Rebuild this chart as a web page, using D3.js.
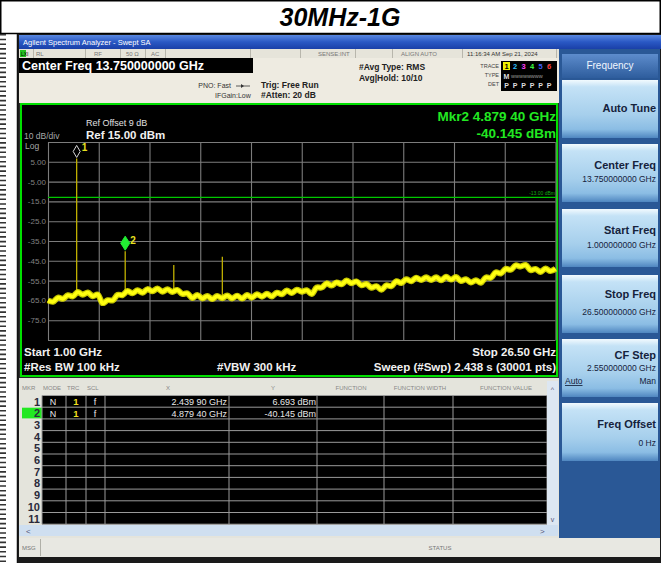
<!DOCTYPE html>
<html><head><meta charset="utf-8">
<script src="https://cdn.jsdelivr.net/npm/d3@7"></script>
<style>body{margin:0;background:#fff}svg{display:block;font-family:"Liberation Sans",Arial,sans-serif}</style>
</head><body><svg id="c" width="661" height="563"></svg>
<script>
// ---------- data ----------
const chartTitle = "30MHz-1G";
const startGHz = 1.0, stopGHz = 26.5;
const refLevel = 15, bottomLevel = -85;
const traceFreqGHz = [1.00,1.25,1.50,1.75,2.00,2.25,2.50,2.75,3.00,3.25,3.50,3.75,4.00,4.25,4.50,4.75,5.00,5.25,5.50,5.75,6.00,6.25,6.50,6.75,7.00,7.25,7.50,7.75,8.00,8.25,8.50,8.75,9.00,9.25,9.50,9.75,10.00,10.25,10.50,10.75,11.00,11.25,11.50,11.75,12.00,12.25,12.50,12.75,13.00,13.25,13.50,13.75,14.00,14.25,14.50,14.75,15.00,15.25,15.50,15.75,16.00,16.25,16.50,16.75,17.00,17.25,17.50,17.75,18.00,18.25,18.50,18.75,19.00,19.25,19.50,19.75,20.00,20.25,20.50,20.75,21.00,21.25,21.50,21.75,22.00,22.25,22.50,22.75,23.00,23.25,23.50,23.75,24.00,24.25,24.50,24.75,25.00,25.25,25.50,25.75,26.00,26.25,26.50];
const traceLevelDbm = [-65.0,-65.7,-63.6,-64.2,-62.4,-63.0,-60.8,-62.1,-61.0,-62.9,-62.0,-66.5,-64.9,-65.0,-62.2,-62.3,-60.3,-61.4,-59.9,-61.1,-59.3,-60.4,-59.0,-60.6,-59.4,-60.7,-59.7,-61.7,-61.4,-63.8,-62.3,-64.0,-62.8,-64.3,-62.8,-63.9,-62.5,-64.0,-62.6,-64.1,-62.3,-63.6,-61.9,-63.1,-61.7,-63.0,-61.1,-61.9,-60.0,-61.3,-59.6,-60.6,-59.9,-61.8,-58.5,-58.5,-56.4,-57.5,-55.9,-56.9,-55.0,-56.3,-55.4,-57.4,-56.7,-58.6,-57.8,-59.6,-57.4,-57.8,-55.3,-56.2,-54.3,-55.3,-53.5,-54.7,-53.3,-54.7,-53.3,-54.8,-53.1,-54.5,-53.2,-55.2,-54.3,-56.0,-54.8,-56.1,-53.4,-53.6,-50.8,-51.4,-49.1,-49.5,-47.3,-47.9,-47.1,-49.7,-49.1,-50.6,-48.9,-50.2,-49.0];
const spurFreqGHz = [2.4399, 4.8794, 7.32, 9.76];
const spurPeakDbm = [6.693, -40.145, -47.1, -42.9];
const spurFloorDbm = [-61.0, -61.5, -60.0, -63.3];
const markerNames = ["1", "2"];
const markerFreqGHz = [2.4399, 4.8794];
const markerLevelDbm = [6.693, -40.145];
const displayLineDbm = -13.0;
const yGridValues = [15,5,-5,-15,-25,-35,-45,-55,-65,-75,-85];
const yTickValues = [5,-5,-15,-25,-35,-45,-55,-65,-75];
const yTickLabels = ["5.00","-5.00","-15.0","-25.0","-35.0","-45.0","-55.0","-65.0","-75.0"];
const xGridValues = [1,3.55,6.1,8.65,11.2,13.75,16.3,18.85,21.4,23.95,26.5];
const tableRowNums = ["1","2","3","4","5","6","7","8","9","10","11"];
const tableMode = ["N","N"], tableTrc = ["1","1"], tableScl = ["f","f"];
const tableX = ["2.439 90 GHz","4.879 40 GHz"];
const tableY = ["6.693 dBm","-40.145 dBm"];
const softkeyLabels = ["Auto Tune","Center Freq","Start Freq","Stop Freq","CF Step","Freq Offset"];
const softkeyValues = ["","13.750000000 GHz","1.000000000 GHz","26.500000000 GHz","2.550000000 GHz","0 Hz"];

// ---------- drawing ----------
const svg = d3.select('#c');
const defs = svg.append('defs');
function vgrad(id, stops){
  const g = defs.append('linearGradient').attr('id',id).attr('x1',0).attr('y1',0).attr('x2',0).attr('y2',1);
  stops.forEach(s=>g.append('stop').attr('offset',s[0]).attr('stop-color',s[1]));
}
vgrad('gTitle',[[0,'#5a88e0'],[0.5,'#2a58c4'],[1,'#1a40a8']]);
vgrad('gBtn',[[0,'#f2fafe'],[0.12,'#c4e2f6'],[0.6,'#a6cfec'],[0.85,'#8bbde4'],[1,'#4f86c0']]);
vgrad('gHead',[[0,'#5d8ccc'],[1,'#2e5d9d']]);
defs.append('filter').attr('id','soft').attr('x','-5%').attr('y','-5%').attr('width','110%').attr('height','110%')
  .append('feGaussianBlur').attr('stdDeviation',0.7);

svg.append('rect').attr('width',661).attr('height',563).attr('fill','#fff');

// outer frame
svg.append('line').attr('x1',0).attr('x2',661).attr('y1',0.75).attr('y2',0.75).attr('stroke','#000').attr('stroke-width',1.5);
svg.append('line').attr('x1',0).attr('x2',661).attr('y1',33.5).attr('y2',33.5).attr('stroke','#000').attr('stroke-width',1.5);
svg.append('line').attr('x1',0.75).attr('x2',0.75).attr('y1',0).attr('y2',34).attr('stroke','#000').attr('stroke-width',1.5);
svg.append('line').attr('x1',660.25).attr('x2',660.25).attr('y1',0).attr('y2',563).attr('stroke','#000').attr('stroke-width',1.5);
svg.append('line').attr('x1',3).attr('x2',3).attr('y1',34).attr('y2',563).attr('stroke','#333').attr('stroke-width',6).attr('stroke-dasharray','1.6 3.1');
svg.append('line').attr('x1',17.5).attr('x2',17.5).attr('y1',34).attr('y2',563).attr('stroke','#111').attr('stroke-width',1.5);

svg.append('text').attr('x',340).attr('y',26).attr('text-anchor','middle')
  .attr('font-size',25).attr('font-weight','bold').attr('font-style','italic').attr('fill','#000').text(chartTitle);

// ---------- analyzer screen ----------
const scr = svg.append('g');
scr.append('rect').attr('x',18).attr('y',34).attr('width',643).attr('height',529).attr('fill','#1a1a1a');
scr.append('rect').attr('x',19).attr('y',35).attr('width',642).attr('height',14).attr('fill','url(#gTitle)');
scr.append('text').attr('x',23).attr('y',45).attr('font-size',7.5).attr('fill','#fff').text('Agilent Spectrum Analyzer - Swept SA');

// status row
scr.append('rect').attr('x',19).attr('y',49).attr('width',540).attr('height',9).attr('fill','#e6e4da');
scr.append('rect').attr('x',20).attr('y',50).attr('width',6).attr('height',7).attr('fill','#22c022');
scr.append('text').attr('x',21).attr('y',56).attr('font-size',5).attr('fill','#000').text('LXI');
const statusTexts = ['RL','RF','50 Ω','AC','SENSE:INT','ALIGN AUTO','11:16:34 AM Sep 21, 2024'];
const statusX = [36,94,126,151,318,401,467];
statusTexts.forEach((t,i)=>scr.append('text').attr('x',statusX[i]).attr('y',56).attr('font-size',6).attr('fill', i===6?'#333':'#777').text(t));
[33,85,120,145,165,250,300,355,392,462,556].forEach(xx=>scr.append('line').attr('x1',xx+0.5).attr('x2',xx+0.5).attr('y1',49).attr('y2',58).attr('stroke','#b8b6ac').attr('stroke-width',1));

// settings block
scr.append('rect').attr('x',19).attr('y',58).attr('width',540).attr('height',45).attr('fill','#eeebe1');
scr.append('rect').attr('x',19).attr('y',58).attr('width',234).attr('height',15).attr('fill','#000');
scr.append('text').attr('x',22).attr('y',70).attr('font-size',12.5).attr('font-weight','bold').attr('fill','#fff').text('Center Freq 13.750000000 GHz');
scr.append('text').attr('x',231).attr('y',88).attr('text-anchor','end').attr('font-size',7).attr('fill','#333').text('PNO: Fast');
scr.append('line').attr('x1',236).attr('x2',250).attr('y1',86).attr('y2',86).attr('stroke','#333').attr('stroke-width',0.8);
scr.append('path').attr('d','M241,84 L244,86 L241,88 Z').attr('fill','#333');
scr.append('text').attr('x',215).attr('y',98).attr('font-size',7).attr('fill','#333').text('IFGain:Low');
scr.append('text').attr('x',261).attr('y',88).attr('font-size',8.5).attr('font-weight','bold').attr('fill','#222').text('Trig: Free Run');
scr.append('text').attr('x',261).attr('y',98).attr('font-size',8.5).attr('font-weight','bold').attr('fill','#222').text('#Atten: 20 dB');
scr.append('text').attr('x',359).attr('y',70).attr('font-size',8.5).attr('font-weight','bold').attr('fill','#222').text('#Avg Type: RMS');
scr.append('text').attr('x',359).attr('y',81).attr('font-size',8.5).attr('font-weight','bold').attr('fill','#222').text('Avg|Hold: 10/10');
['TRACE','TYPE','DET'].forEach((t,i)=>scr.append('text').attr('x',499).attr('y',68+i*9).attr('text-anchor','end').attr('font-size',5.5).attr('fill','#444').text(t));
scr.append('rect').attr('x',501).attr('y',61).attr('width',56).attr('height',30).attr('fill','#000');
const trColors = ['#000','#30c0ff','#ff40ff','#40ff40','#4060ff','#ff4040'];
scr.append('rect').attr('x',503).attr('y',62).attr('width',7).attr('height',8).attr('fill','#f0f000');
for(let i=0;i<6;i++){
  scr.append('text').attr('x',506.5+i*8.5).attr('y',69).attr('text-anchor','middle').attr('font-size',7.5).attr('font-weight','bold').attr('fill',trColors[i]).text(String(i+1));
  scr.append('text').attr('x',506.5+i*8.5).attr('y',88).attr('text-anchor','middle').attr('font-size',7).attr('font-weight','bold').attr('fill','#ddd').text('P');
}
scr.append('text').attr('x',506.5).attr('y',78.5).attr('text-anchor','middle').attr('font-size',7).attr('font-weight','bold').attr('fill','#ddd').text('M');
scr.append('text').attr('x',511).attr('y',78).attr('font-size',5.5).attr('fill','#999').text('wwwwwwww');

// ---------- plot panel ----------
scr.append('rect').attr('x',19).attr('y',103).attr('width',540).attr('height',275).attr('fill','#2a2a2a');
scr.append('rect').attr('x',21).attr('y',104).attr('width',536).attr('height',272).attr('fill','#000').attr('stroke','#00e000').attr('stroke-width',2);

const x = d3.scaleLinear().domain([startGHz, stopGHz]).range([48, 555.5]);
const y = d3.scaleLinear().domain([bottomLevel, refLevel]).range([340, 142]);
const plot = scr.append('g');

const gy = plot.append('g').attr('transform','translate(48,0)')
  .call(d3.axisLeft(y).tickValues(yGridValues).tickSize(-(555.5-48)).tickFormat(''));
const gx = plot.append('g').attr('transform','translate(0,340)')
  .call(d3.axisBottom(x).tickValues(xGridValues).tickSize(-(340-142)).tickFormat(''));
[gy,gx].forEach(g=>{g.select('.domain').remove(); g.selectAll('line').attr('stroke','#7c7c7c').attr('stroke-width',1.1);});

const yl = plot.append('g').attr('transform','translate(46,0)')
  .call(d3.axisLeft(y).tickValues(yTickValues).tickSize(0).tickPadding(0).tickFormat((d,i)=>yTickLabels[i]));
yl.select('.domain').remove();
yl.selectAll('text').attr('font-size',8).attr('fill','#808080').attr('font-family','"Liberation Sans",Arial,sans-serif');

plot.append('text').attr('x',24).attr('y',139).attr('font-size',8.5).attr('fill','#a8a8a8').text('10 dB/div');
plot.append('text').attr('x',25).attr('y',149).attr('font-size',8.5).attr('fill','#a8a8a8').text('Log');
plot.append('text').attr('x',86).attr('y',126).attr('font-size',9).attr('fill','#e0e0e0').text('Ref Offset 9 dB');
plot.append('text').attr('x',86).attr('y',139).attr('font-size',11.5).attr('font-weight','bold').attr('fill','#f0f0f0').text('Ref 15.00 dBm');
plot.append('text').attr('x',556).attr('y',121).attr('text-anchor','end').attr('font-size',13.5).attr('font-weight','bold').attr('fill','#22e822').text('Mkr2 4.879 40 GHz');
plot.append('text').attr('x',556).attr('y',138).attr('text-anchor','end').attr('font-size',13.5).attr('font-weight','bold').attr('fill','#22e822').text('-40.145 dBm');

// display line
plot.append('line').attr('x1',48).attr('x2',556).attr('y1',y(displayLineDbm)).attr('y2',y(displayLineDbm)).attr('stroke','#00c800').attr('stroke-width',1.3);
plot.append('text').attr('x',555).attr('y',y(displayLineDbm)-2).attr('text-anchor','end').attr('font-size',5).attr('fill','#10b010').text('-13.00 dBm');

// spurs
spurFreqGHz.forEach((f,i)=>{
  plot.append('line').attr('x1',x(f)).attr('x2',x(f)).attr('y1',y(spurFloorDbm[i])).attr('y2',y(spurPeakDbm[i]))
    .attr('stroke','#c0b000').attr('stroke-width',1.3);
});
// trace: soft outer band + core line
const line = d3.line().x((d,i)=>x(traceFreqGHz[i])).y(d=>y(d)).curve(d3.curveCatmullRom);
plot.append('path').attr('d',line(traceLevelDbm)).attr('fill','none').attr('stroke','#e8e800').attr('stroke-width',6)
  .attr('stroke-linejoin','round').attr('filter','url(#soft)').attr('opacity',0.85);
plot.append('path').attr('d',line(traceLevelDbm)).attr('fill','none').attr('stroke','#ffff10').attr('stroke-width',3.6).attr('stroke-linejoin','round');

// markers
markerFreqGHz.forEach((f,i)=>{
  const mx = x(f), my = y(markerLevelDbm[i]);
  const d = i===0 ? `M${mx},${my-1} L${mx-3.5},${my-7} L${mx},${my-13} L${mx+3.5},${my-7} Z`
                  : `M${mx},${my-1} L${mx-4.5},${my-8} L${mx},${my-15} L${mx+4.5},${my-8} Z`;
  plot.append('path').attr('d',d).attr('fill', i===0?'none':'#22ee33').attr('stroke', i===0?'#d8d8d8':'#22ee33').attr('stroke-width',1);
  plot.append('text').attr('x',mx+5).attr('y',my-7).attr('font-size',10).attr('font-weight','bold').attr('fill','#e8e020').text(markerNames[i]);
});

// bottom annotations
plot.append('text').attr('x',24).attr('y',356).attr('font-size',11.5).attr('font-weight','bold').attr('fill','#f0f0f0').text('Start 1.00 GHz');
plot.append('text').attr('x',24).attr('y',371).attr('font-size',11.5).attr('font-weight','bold').attr('fill','#f0f0f0').text('#Res BW 100 kHz');
plot.append('text').attr('x',217).attr('y',371).attr('font-size',11.5).attr('font-weight','bold').attr('fill','#f0f0f0').text('#VBW 300 kHz');
plot.append('text').attr('x',556).attr('y',356).attr('text-anchor','end').attr('font-size',11.5).attr('font-weight','bold').attr('fill','#f0f0f0').text('Stop 26.50 GHz');
plot.append('text').attr('x',556).attr('y',371).attr('text-anchor','end').attr('font-size',11.5).attr('font-weight','bold').attr('fill','#f0f0f0').text('Sweep (#Swp)  2.438 s (30001 pts)');

// ---------- marker table ----------
const tb = scr.append('g');
tb.append('rect').attr('x',19).attr('y',378).attr('width',540).attr('height',160).attr('fill','#e4e4dc');
const hdr = ['MKR','MODE','TRC','SCL'], hdrX=[22,43,67,87];
hdr.forEach((t,i)=>tb.append('text').attr('x',hdrX[i]).attr('y',390).attr('font-size',6).attr('fill','#888').text(t));
const hdr2 = ['X','Y','FUNCTION','FUNCTION WIDTH','FUNCTION VALUE'], hdr2X=[168,273,351,420,506];
hdr2.forEach((t,i)=>tb.append('text').attr('x',hdr2X[i]).attr('y',390).attr('text-anchor','middle').attr('font-size',6).attr('fill','#888').text(t));
const rowH = 11.7, top0 = 395.5;
tb.append('rect').attr('x',42).attr('y',top0).attr('width',505).attr('height',rowH*11).attr('fill','#000');
tb.append('rect').attr('x',22).attr('y',top0+rowH+0.5).attr('width',20).attr('height',rowH-1).attr('fill','#22e822');
for(let i=0;i<=11;i++) tb.append('line').attr('x1',42).attr('x2',547).attr('y1',top0+i*rowH).attr('y2',top0+i*rowH).attr('stroke','#9a9a9a').attr('stroke-width',1);
[42,66,86,105,229,317,384,453,547].forEach(xx=>tb.append('line').attr('x1',xx).attr('x2',xx).attr('y1',top0).attr('y2',top0+rowH*11).attr('stroke','#9a9a9a').attr('stroke-width',1));
tableRowNums.forEach((t,i)=>tb.append('text').attr('x',40).attr('y',top0+i*rowH+10).attr('text-anchor','end').attr('font-size',11).attr('font-weight','bold').attr('fill','#2a2a3a').text(t));
tableMode.forEach((t,i)=>{
  const yy = top0+i*rowH+9.5;
  tb.append('text').attr('x',53).attr('y',yy).attr('text-anchor','middle').attr('font-size',9).attr('fill','#e8e8e8').text(t);
  tb.append('text').attr('x',76).attr('y',yy).attr('text-anchor','middle').attr('font-size',9.5).attr('font-weight','bold').attr('fill','#f0e020').text(tableTrc[i]);
  tb.append('text').attr('x',95).attr('y',yy).attr('text-anchor','middle').attr('font-size',9).attr('fill','#e8e8e8').text(tableScl[i]);
  tb.append('text').attr('x',227).attr('y',yy).attr('text-anchor','end').attr('font-size',9).attr('fill','#e8e8e8').text(tableX[i]);
  tb.append('text').attr('x',316).attr('y',yy).attr('text-anchor','end').attr('font-size',9).attr('fill','#e8e8e8').text(tableY[i]);
});
tb.append('rect').attr('x',547).attr('y',381).attr('width',11).attr('height',146).attr('fill','#dde7f2');
tb.append('text').attr('x',552.5).attr('y',392).attr('text-anchor','middle').attr('font-size',7).attr('fill','#557').text('^');
tb.append('text').attr('x',552.5).attr('y',522).attr('text-anchor','middle').attr('font-size',7).attr('fill','#557').text('v');
tb.append('rect').attr('x',19).attr('y',525).attr('width',539).attr('height',11).attr('fill','#cfdff0');
tb.append('text').attr('x',26).attr('y',533.5).attr('font-size',8).attr('fill','#557').text('<');
tb.append('text').attr('x',540).attr('y',533.5).attr('font-size',8).attr('fill','#557').text('>');

// ---------- right softkey panel ----------
const rp = scr.append('g');
rp.append('rect').attr('x',559).attr('y',49).attr('width',101).attr('height',489).attr('fill','#2a5896');
rp.append('rect').attr('x',562).attr('y',54).attr('width',96).attr('height',24).attr('fill','url(#gHead)');
rp.append('text').attr('x',610).attr('y',69).attr('text-anchor','middle').attr('font-size',10).attr('fill','#f0f6ff').text('Frequency');
const keyTop = [80,144,209,275,339,403], keyH = 58;
const keyLabelY = [112,169,234,298,359,428], keyValueY = [0,182,248,315,371,446];
softkeyLabels.forEach((t,i)=>{
  rp.append('rect').attr('x',562).attr('y',keyTop[i]).attr('width',96).attr('height',keyH).attr('fill','url(#gBtn)');
  rp.append('text').attr('x',656).attr('y',keyLabelY[i]).attr('text-anchor','end').attr('font-size',11).attr('font-weight','bold').attr('fill','#15223c').text(t);
  if(softkeyValues[i]) rp.append('text').attr('x',656).attr('y',keyValueY[i]).attr('text-anchor','end').attr('font-size',8.5).attr('fill','#15223c').text(softkeyValues[i]);
});
rp.append('text').attr('x',565).attr('y',384).attr('font-size',8.5).attr('fill','#15223c').attr('text-decoration','underline').text('Auto');
rp.append('text').attr('x',656).attr('y',384).attr('text-anchor','end').attr('font-size',8.5).attr('fill','#15223c').text('Man');

// ---------- status bar ----------
scr.append('rect').attr('x',19).attr('y',538).attr('width',641).attr('height',19).attr('fill','#e8e8e2');
scr.append('line').attr('x1',40.5).attr('x2',40.5).attr('y1',539).attr('y2',556).attr('stroke','#b0b0a8');
scr.append('text').attr('x',22).attr('y',550).attr('font-size',6).attr('fill','#777').text('MSG');
scr.append('text').attr('x',440).attr('y',550).attr('text-anchor','middle').attr('font-size',6).attr('fill','#777').text('STATUS');
</script></body></html>
